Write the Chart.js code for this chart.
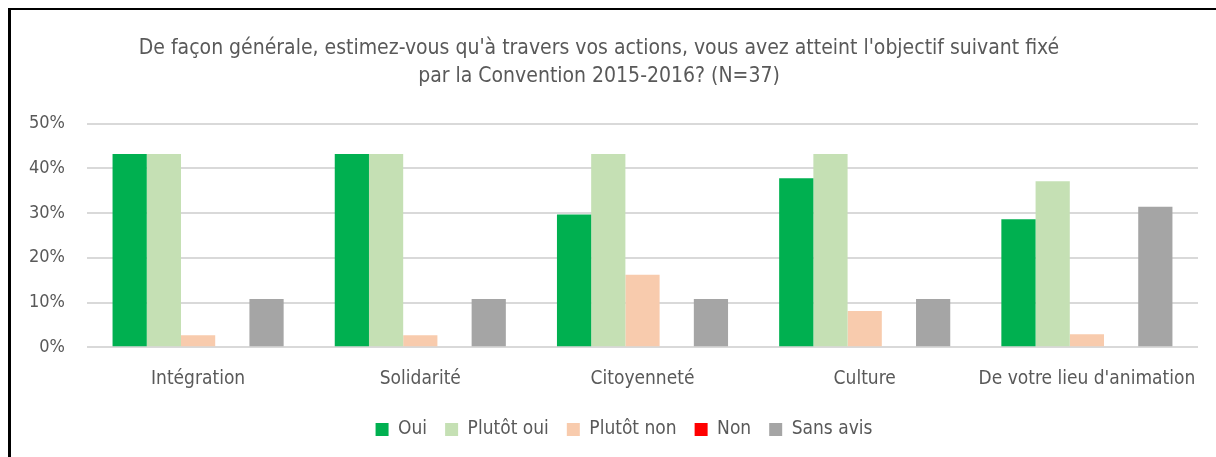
<!DOCTYPE html>
<html>
<head>
<meta charset="utf-8">
<script src="https://cdn.jsdelivr.net/npm/chart.js@4.4.0/dist/chart.umd.min.js"></script>
<style>
  html, body { margin: 0; padding: 0; background: #fff; }
  #wrap { position: relative; width: 1216px; height: 457px; overflow: hidden; }
  #frame { position: absolute; left: 8px; top: 8px; width: 1300px; height: 500px;
           border-top: 2px solid #000; border-left: 3px solid #000; box-sizing: border-box; }
  #chartBox { position: absolute; left: 0; top: 0; width: 1216px; height: 457px; }
</style>
</head>
<body>
<div id="wrap">
  <div id="frame"></div>
  <div id="chartBox"><canvas id="chart"></canvas></div>
</div>
<script>
// Data
const categories = ['Intégration', 'Solidarité', 'Citoyenneté', 'Culture', "De votre lieu d'animation"];
const seriesNames = ['Oui', 'Plutôt oui', 'Plutôt non', 'Non', 'Sans avis'];
const oui = [43.2, 43.2, 29.7, 37.8, 28.6];
const plutotOui = [43.2, 43.2, 43.2, 43.2, 37.1];
const plutotNon = [2.7, 2.7, 16.2, 8.1, 2.9];
const non = [0, 0, 0, 0, 0];
const sansAvis = [10.8, 10.8, 10.8, 10.8, 31.4];
const yTicks = [0, 10, 20, 30, 40, 50];
const titleLines = [
    "De façon générale, estimez-vous qu'à travers vos actions, vous avez atteint l'objectif suivant fixé",
    "par la Convention 2015-2016? (N=37)"
];

const colors = ['#00b050', '#c5e0b4', '#f8cbad', '#ff0000', '#a5a5a5'];
const FONT = "'Liberation Sans Narrow', 'Arial Narrow', 'DejaVu Sans Condensed', sans-serif";
const TEXT = '#595959';

const values = [oui, plutotOui, plutotNon, non, sansAvis];
const datasets = seriesNames.map((name, i) => ({
    label: name,
    data: values[i],
    backgroundColor: colors[i],
    borderWidth: 0,
    barPercentage: 1.0,
    categoryPercentage: 0.77
}));

// legend sits a bit right of centre in the original
const legendShift = {
    id: 'legendShift',
    afterLayout(chart) {
        chart.legend.left += 25;
        chart.legend.right += 25;
    }
};

new Chart(document.getElementById('chart'), {
    type: 'bar',
    data: { labels: categories, datasets: datasets },
    options: {
        responsive: true,
        maintainAspectRatio: false,
        animation: false,
        layout: { padding: { left: 0, right: 18, top: 34, bottom: 8 } },
        plugins: {
            title: {
                display: true,
                text: titleLines,
                color: TEXT,
                font: { family: FONT, size: 21, weight: 'normal', lineHeight: 1.35 },
                padding: { top: 0, bottom: 33 }
            },
            legend: {
                position: 'bottom',
                labels: {
                    color: TEXT,
                    font: { family: FONT, size: 19 },
                    boxWidth: 13,
                    boxHeight: 13,
                    padding: 18
                }
            },
            tooltip: { enabled: false }
        },
        scales: {
            x: {
                grid: { display: false },
                border: { display: false },
                ticks: { color: TEXT, font: { family: FONT, size: 19 }, padding: 12, maxRotation: 0, autoSkip: false }
            },
            y: {
                min: 0,
                max: 50,
                afterBuildTicks: (scale) => { scale.ticks = yTicks.map(v => ({ value: v })); },
                afterFit: (scale) => { scale.width = 87; },
                grid: { color: '#d9d9d9', lineWidth: 2, drawTicks: false },
                border: { display: false },
                ticks: {
                    color: TEXT,
                    font: { family: FONT, size: 18 },
                    padding: 22,
                    callback: (v) => v + '%'
                }
            }
        }
    },
    plugins: [legendShift]
});
</script>
</body>
</html>
